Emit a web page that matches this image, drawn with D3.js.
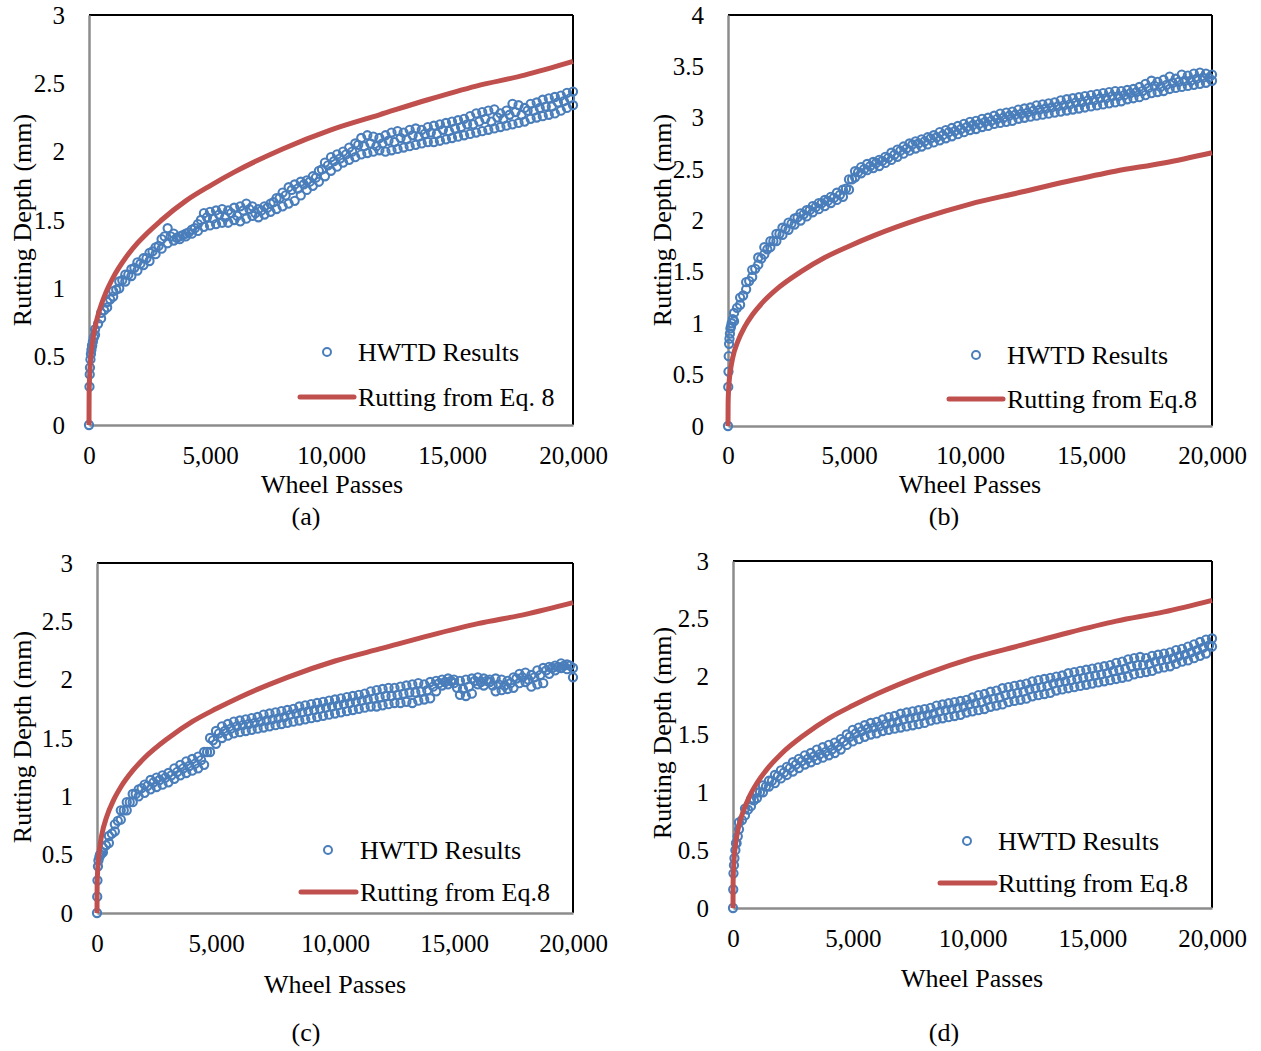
<!DOCTYPE html>
<html>
<head>
<meta charset="utf-8">
<script src="https://cdn.jsdelivr.net/npm/d3@7"></script>
<style>
  html, body { margin: 0; padding: 0; background: #fff; }
  svg { display: block; }
  text { font-family: "Liberation Serif", "Times New Roman", serif; fill: #000; }
</style>
</head>
<body>
<svg id="chart" width="1261" height="1051"></svg>
<script>
// ---------------- DATA ----------------
const X_TICKS = [0, 5000, 10000, 15000, 20000];
const Y_TICKS_3 = [0, 0.5, 1, 1.5, 2, 2.5, 3];
const Y_TICKS_4 = [0, 0.5, 1, 1.5, 2, 2.5, 3, 3.5, 4];
const CAPTIONS = ["(a)", "(b)", "(c)", "(d)"];
const SERIES_NAMES_A = ["HWTD Results", "Rutting from Eq. 8"];
const SERIES_NAMES = ["HWTD Results", "Rutting from Eq.8"];
const X_TITLE = "Wheel Passes";
const Y_TITLE = "Rutting Depth (mm)";

// Wheel passes at which the two outer measurement strands were recorded
const PASSES = [250, 500, 750, 1000, 1250, 1500, 1750, 2000, 2250, 2500, 2750, 3000, 3250, 3500, 3750, 4000,
  4250, 4500, 4750, 5000, 5250, 5500, 5750, 6000, 6250, 6500, 6750, 7000, 7250, 7500, 7750, 8000,
  8250, 8500, 8750, 9000, 9250, 9500, 9750, 10000, 10250, 10500, 10750, 11000, 11250, 11500, 11750, 12000,
  12250, 12500, 12750, 13000, 13250, 13500, 13750, 14000, 14250, 14500, 14750, 15000, 15250, 15500, 15750, 16000,
  16250, 16500, 16750, 17000, 17250, 17500, 17750, 18000, 18250, 18500, 18750, 19000, 19250, 19500, 19750, 20000];
// Wheel passes of the intermediate readings
const PASSES_MID = [125, 375, 625, 875, 1125, 1375, 1625, 1875, 2125, 2375, 2625, 2875, 3125, 3375, 3625, 3875,
  4125, 4375, 4625, 4875, 5125, 5375, 5625, 5875, 6125, 6375, 6625, 6875, 7125, 7375, 7625, 7875,
  8125, 8375, 8625, 8875, 9125, 9375, 9625, 9875, 10125, 10375, 10625, 10875, 11125, 11375, 11625, 11875,
  12125, 12375, 12625, 12875, 13125, 13375, 13625, 13875, 14125, 14375, 14625, 14875, 15125, 15375, 15625, 15875,
  16125, 16375, 16625, 16875, 17125, 17375, 17625, 17875, 18125, 18375, 18625, 18875, 19125, 19375, 19625, 19875];

// Eq. 8 prediction curve
const EQ8_PASSES = [0, 5, 20, 50, 100, 200, 400, 700, 1000, 1500, 2000, 3000, 4000, 5000, 6000, 8000, 10000, 12000, 14000, 16000, 18000, 20000];
const EQ8_DEPTH = [0, 0.22, 0.33, 0.44, 0.54, 0.67, 0.82, 0.97, 1.08, 1.22, 1.33, 1.5, 1.64, 1.75, 1.85, 2.02, 2.16, 2.27, 2.38, 2.48, 2.56, 2.66];

// Panel (a)
const EARLY_PASSES_A = [0, 20, 30, 40, 60, 80, 100, 130, 160, 200];
const EARLY_DEPTH_A = [0, 0.28, 0.37, 0.42, 0.48, 0.52, 0.55, 0.58, 0.61, 0.64];
const LOWER_A = [0.66, 0.78, 0.86, 0.94, 1.0, 1.05, 1.09, 1.13, 1.17, 1.2, 1.25, 1.29, 1.33, 1.35, 1.36, 1.38,
  1.4, 1.42, 1.45, 1.46, 1.47, 1.48, 1.48, 1.5, 1.49, 1.51, 1.53, 1.52, 1.54, 1.56, 1.58, 1.6,
  1.62, 1.64, 1.68, 1.72, 1.75, 1.78, 1.82, 1.86, 1.89, 1.92, 1.94, 1.96, 1.98, 1.99, 2.0, 2.01,
  2.0, 2.01, 2.02, 2.03, 2.04, 2.05, 2.06, 2.07, 2.07, 2.08, 2.09, 2.1, 2.11, 2.12, 2.13, 2.14,
  2.15, 2.16, 2.17, 2.18, 2.19, 2.2, 2.21, 2.22, 2.24, 2.25, 2.26, 2.27, 2.28, 2.3, 2.32, 2.34];
const MID_A = [0.58, 0.74, 0.84, 0.92, 0.99, 1.06, 1.1, 1.15, 1.18, 1.22, 1.27, 1.31, 1.38, 1.38, 1.37, 1.39,
  1.41, 1.44, 1.5, 1.52, 1.51, 1.54, 1.52, 1.55, 1.53, 1.57, 1.58, 1.55, 1.57, 1.59, 1.63, 1.66,
  1.68, 1.72, 1.73, 1.76, 1.78, 1.81, 1.87, 1.9, 1.93, 1.95, 1.98, 2.0, 2.05, 2.04, 2.06, 2.04,
  2.06, 2.08, 2.07, 2.1, 2.09, 2.12, 2.11, 2.13, 2.14, 2.13, 2.16, 2.15, 2.17, 2.18, 2.2, 2.2,
  2.22, 2.24, 2.22, 2.25, 2.24, 2.27, 2.29, 2.27, 2.3, 2.3, 2.32, 2.33, 2.33, 2.36, 2.37, 2.39];
const UPPER_A = [0.7, 0.82, 0.9, 0.98, 1.05, 1.1, 1.14, 1.19, 1.22, 1.26, 1.3, 1.36, 1.44, 1.4, 1.38, 1.4,
  1.43, 1.47, 1.55, 1.56, 1.57, 1.58, 1.57, 1.59, 1.6, 1.62, 1.6, 1.58, 1.6, 1.62, 1.66, 1.7,
  1.74, 1.76, 1.78, 1.79, 1.82, 1.86, 1.92, 1.96, 1.98, 2.0, 2.03, 2.06, 2.1, 2.12, 2.11, 2.1,
  2.12, 2.14, 2.15, 2.14, 2.16, 2.17, 2.16, 2.18, 2.19, 2.2, 2.21, 2.22, 2.23, 2.24, 2.26, 2.28,
  2.29, 2.3, 2.31, 2.28, 2.3, 2.35, 2.34, 2.32, 2.35, 2.36, 2.38, 2.39, 2.4, 2.41, 2.43, 2.44];

// Panel (b)
const EARLY_PASSES_B = [0, 10, 20, 30, 45, 60, 80, 100, 150, 200];
const EARLY_DEPTH_B = [0, 0.38, 0.53, 0.68, 0.8, 0.85, 0.9, 0.95, 1.0, 1.04];
const LOWER_B = [1.02, 1.18, 1.33, 1.45, 1.57, 1.67, 1.74, 1.8, 1.86, 1.91, 1.96, 2.0, 2.04, 2.08, 2.11, 2.14,
  2.17, 2.2, 2.23, 2.3, 2.42, 2.46, 2.49, 2.51, 2.53, 2.56, 2.59, 2.62, 2.65, 2.68, 2.7, 2.72,
  2.74, 2.76, 2.78, 2.8, 2.82, 2.84, 2.86, 2.88, 2.89, 2.91, 2.92, 2.94, 2.95, 2.96, 2.97, 2.99,
  3.0, 3.01, 3.02, 3.03, 3.04, 3.05, 3.06, 3.07, 3.08, 3.09, 3.1, 3.11, 3.12, 3.13, 3.14, 3.15,
  3.16, 3.18, 3.19, 3.2, 3.22, 3.24, 3.25, 3.26, 3.28, 3.29, 3.3, 3.31, 3.32, 3.33, 3.34, 3.36];
const MID_B = [0.97, 1.15, 1.27, 1.41, 1.53, 1.63, 1.72, 1.8, 1.87, 1.92, 1.97, 2.03, 2.06, 2.1, 2.13, 2.17,
  2.19, 2.22, 2.25, 2.31, 2.4, 2.47, 2.5, 2.53, 2.56, 2.58, 2.61, 2.64, 2.68, 2.7, 2.74, 2.75,
  2.77, 2.8, 2.81, 2.83, 2.86, 2.87, 2.89, 2.91, 2.93, 2.94, 2.96, 2.97, 2.99, 3.0, 3.02, 3.03,
  3.04, 3.05, 3.07, 3.08, 3.09, 3.1, 3.11, 3.12, 3.13, 3.15, 3.15, 3.17, 3.17, 3.19, 3.19, 3.21,
  3.21, 3.22, 3.24, 3.25, 3.26, 3.29, 3.31, 3.3, 3.32, 3.34, 3.35, 3.36, 3.36, 3.38, 3.39, 3.39];
const UPPER_B = [1.1, 1.25, 1.4, 1.52, 1.64, 1.74, 1.8, 1.87, 1.93, 1.98, 2.02, 2.07, 2.1, 2.14, 2.17, 2.2,
  2.23, 2.27, 2.3, 2.4, 2.48, 2.52, 2.55, 2.57, 2.59, 2.62, 2.66, 2.69, 2.72, 2.75, 2.77, 2.79,
  2.81, 2.83, 2.86, 2.88, 2.9, 2.92, 2.94, 2.96, 2.97, 2.99, 3.0, 3.02, 3.04, 3.05, 3.06, 3.08,
  3.09, 3.1, 3.12, 3.13, 3.14, 3.15, 3.17, 3.18, 3.19, 3.2, 3.21, 3.22, 3.23, 3.24, 3.25, 3.26,
  3.26, 3.27, 3.28, 3.3, 3.33, 3.36, 3.35, 3.37, 3.4, 3.38, 3.42, 3.41, 3.43, 3.44, 3.43, 3.42];

// Panel (c)
const EARLY_PASSES_C = [0, 10, 20, 40, 60, 100, 150, 200];
const EARLY_DEPTH_C = [0, 0.14, 0.28, 0.4, 0.45, 0.48, 0.5, 0.52];
const LOWER_C = [0.52, 0.6, 0.7, 0.8, 0.88, 0.95, 1.0, 1.03, 1.06, 1.08, 1.1, 1.12, 1.15, 1.18, 1.2, 1.22,
  1.24, 1.27, 1.38, 1.45, 1.5, 1.52, 1.54, 1.55, 1.56, 1.57, 1.58, 1.59, 1.6, 1.61, 1.62, 1.63,
  1.64, 1.65, 1.66, 1.67, 1.68, 1.69, 1.7, 1.71, 1.72, 1.73, 1.74, 1.75, 1.76, 1.77, 1.77, 1.78,
  1.79, 1.8, 1.8, 1.81, 1.8, 1.82, 1.83, 1.84, 1.9, 1.95, 1.96, 1.97, 1.87, 1.86, 1.88, 1.96,
  1.95, 1.98, 1.9, 1.91, 1.92, 1.93, 1.97, 1.98, 1.94, 1.96, 1.97, 2.05, 2.08, 2.1, 2.09, 2.02];
const MID_C = [0.5, 0.58, 0.68, 0.79, 0.88, 0.95, 1.02, 1.07, 1.09, 1.12, 1.14, 1.16, 1.18, 1.21, 1.24, 1.26,
  1.28, 1.31, 1.38, 1.48, 1.54, 1.56, 1.58, 1.6, 1.61, 1.62, 1.63, 1.64, 1.65, 1.66, 1.67, 1.68,
  1.7, 1.71, 1.72, 1.73, 1.74, 1.75, 1.76, 1.77, 1.78, 1.79, 1.8, 1.81, 1.82, 1.83, 1.84, 1.85,
  1.86, 1.86, 1.87, 1.88, 1.89, 1.89, 1.9, 1.91, 1.94, 1.97, 1.98, 1.99, 1.93, 1.92, 1.94, 1.99,
  1.98, 1.99, 1.95, 1.96, 1.95, 1.97, 2.01, 2.02, 2.0, 2.02, 2.04, 2.08, 2.1, 2.11, 2.12, 2.12];
const UPPER_C = [0.56, 0.66, 0.76, 0.88, 0.95, 1.02, 1.06, 1.1, 1.14, 1.16, 1.18, 1.2, 1.24, 1.27, 1.3, 1.32,
  1.34, 1.38, 1.5, 1.56, 1.6, 1.62, 1.64, 1.65, 1.66, 1.67, 1.68, 1.7, 1.71, 1.72, 1.73, 1.74,
  1.75, 1.77, 1.78, 1.79, 1.8, 1.81, 1.82, 1.83, 1.84, 1.85, 1.86, 1.87, 1.88, 1.9, 1.91, 1.92,
  1.93, 1.93, 1.94, 1.95, 1.96, 1.97, 1.96, 1.98, 1.99, 2.0, 2.01, 2.0, 1.99, 2.0, 2.01, 2.02,
  2.01, 2.0, 2.01, 2.0, 1.99, 2.02, 2.05, 2.06, 2.04, 2.08, 2.1, 2.11, 2.12, 2.14, 2.13, 2.1];

// Panel (d)
const EARLY_PASSES_D = [0, 10, 20, 40, 60, 100, 150, 200];
const EARLY_DEPTH_D = [0, 0.16, 0.3, 0.37, 0.43, 0.5, 0.56, 0.62];
const LOWER_D = [0.68, 0.8, 0.88, 0.95, 1.0, 1.05, 1.08, 1.12, 1.15, 1.18, 1.21, 1.24, 1.26, 1.28, 1.3, 1.32,
  1.34, 1.37, 1.41, 1.44, 1.46, 1.48, 1.5, 1.51, 1.53, 1.54, 1.55, 1.56, 1.57, 1.58, 1.59, 1.6,
  1.62, 1.63, 1.64, 1.65, 1.66, 1.67, 1.69, 1.7, 1.71, 1.72, 1.74, 1.75, 1.76, 1.78, 1.79, 1.8,
  1.81, 1.83, 1.84, 1.85, 1.86, 1.88, 1.89, 1.9, 1.91, 1.92, 1.93, 1.94, 1.95, 1.96, 1.97, 1.98,
  1.99, 2.0, 2.02, 2.03, 2.04, 2.05, 2.07, 2.08, 2.09, 2.11, 2.13, 2.14, 2.16, 2.18, 2.2, 2.26];
const MID_D = [0.56, 0.76, 0.85, 0.93, 1.0, 1.05, 1.1, 1.14, 1.17, 1.21, 1.24, 1.27, 1.29, 1.31, 1.33, 1.35,
  1.37, 1.4, 1.44, 1.48, 1.51, 1.53, 1.55, 1.56, 1.57, 1.59, 1.6, 1.61, 1.63, 1.64, 1.65, 1.66,
  1.67, 1.68, 1.7, 1.71, 1.72, 1.73, 1.74, 1.76, 1.77, 1.78, 1.8, 1.81, 1.82, 1.84, 1.85, 1.86,
  1.87, 1.89, 1.9, 1.91, 1.92, 1.94, 1.95, 1.96, 1.97, 1.98, 1.99, 2.0, 2.01, 2.02, 2.03, 2.05,
  2.06, 2.07, 2.09, 2.1, 2.1, 2.11, 2.13, 2.14, 2.15, 2.16, 2.18, 2.19, 2.21, 2.23, 2.25, 2.27];
const UPPER_D = [0.74, 0.86, 0.94, 1.0, 1.06, 1.1, 1.15, 1.19, 1.22, 1.26, 1.29, 1.32, 1.34, 1.37, 1.39, 1.41,
  1.43, 1.46, 1.5, 1.54, 1.56, 1.58, 1.6, 1.61, 1.63, 1.65, 1.66, 1.68, 1.69, 1.7, 1.71, 1.72,
  1.73, 1.75, 1.76, 1.77, 1.78, 1.79, 1.8, 1.82, 1.84, 1.85, 1.87, 1.88, 1.9, 1.91, 1.92, 1.93,
  1.94, 1.96, 1.97, 1.98, 1.99, 2.0, 2.01, 2.03, 2.04, 2.05, 2.06, 2.07, 2.08, 2.09, 2.1, 2.12,
  2.13, 2.15, 2.16, 2.17, 2.16, 2.18, 2.19, 2.2, 2.21, 2.23, 2.24, 2.26, 2.28, 2.3, 2.32, 2.33];

// ---------------- STYLE / LAYOUT ----------------
const BLUE = "#4a7ebb";
const RED = "#c0504d";
const AXIS_GRAY = "#8c8c8c";

const panels = [
  { left: 89, right: 573, top: 15, bottom: 425, yMax: 3, yTicks: Y_TICKS_3, xPad: 21,
    early: [EARLY_PASSES_A, EARLY_DEPTH_A], lower: LOWER_A, mid: MID_A, upper: UPPER_A, names: SERIES_NAMES_A,
    xTitle: [332, 484], yTitle: [22, 220], caption: [306, 516],
    leg: { mx: 327, my: 352, lx1: 300, lx2: 354, ly: 397, tx: 358 } },
  { left: 728, right: 1212, top: 15, bottom: 426, yMax: 4, yTicks: Y_TICKS_4, xPad: 20,
    early: [EARLY_PASSES_B, EARLY_DEPTH_B], lower: LOWER_B, mid: MID_B, upper: UPPER_B, names: SERIES_NAMES,
    xTitle: [970, 484], yTitle: [662, 220], caption: [944, 516],
    leg: { mx: 976, my: 355, lx1: 949, lx2: 1003, ly: 399, tx: 1007 } },
  { left: 97, right: 573, top: 563, bottom: 913, yMax: 3, yTicks: Y_TICKS_3, xPad: 21,
    early: [EARLY_PASSES_C, EARLY_DEPTH_C], lower: LOWER_C, mid: MID_C, upper: UPPER_C, names: SERIES_NAMES,
    xTitle: [335, 984], yTitle: [22, 737], caption: [306, 1032],
    leg: { mx: 328, my: 850, lx1: 301, lx2: 356, ly: 892, tx: 360 } },
  { left: 733, right: 1212, top: 561, bottom: 908, yMax: 3, yTicks: Y_TICKS_3, xPad: 21,
    early: [EARLY_PASSES_D, EARLY_DEPTH_D], lower: LOWER_D, mid: MID_D, upper: UPPER_D, names: SERIES_NAMES,
    xTitle: [972, 978], yTitle: [662, 733], caption: [944, 1032],
    leg: { mx: 967, my: 841, lx1: 940, lx2: 995, ly: 883, tx: 998 } }
];

const svg = d3.select("#chart");

panels.forEach((p, i) => {
  const x = d3.scaleLinear().domain([0, 20000]).range([p.left, p.right]);
  const y = d3.scaleLinear().domain([0, p.yMax]).range([p.bottom, p.top]);
  const g = svg.append("g");

  // plot frame (top & right black)
  g.append("line").attr("x1", p.left).attr("x2", p.right).attr("y1", p.top).attr("y2", p.top)
    .attr("stroke", "#000").attr("stroke-width", 2);
  g.append("line").attr("x1", p.right).attr("x2", p.right).attr("y1", p.top).attr("y2", p.bottom)
    .attr("stroke", "#000").attr("stroke-width", 2);

  // axes
  const xAxis = d3.axisBottom(x).tickValues(X_TICKS).tickFormat(d3.format(",")).tickSize(0).tickPadding(p.xPad);
  const yAxis = d3.axisLeft(y).tickValues(p.yTicks).tickFormat(d => String(d)).tickSize(0).tickPadding(24);
  const gx = g.append("g").attr("transform", `translate(0,${p.bottom})`).call(xAxis);
  const gy = g.append("g").attr("transform", `translate(${p.left},0)`).call(yAxis);
  [gx, gy].forEach(a => {
    a.select(".domain").attr("stroke", AXIS_GRAY).attr("stroke-width", 2.5);
    a.selectAll("text").attr("font-family", "Liberation Serif, serif").attr("font-size", 25).attr("fill", "#000");
  });

  // data points
  const pts = [];
  p.early[0].forEach((n, k) => pts.push([n, p.early[1][k]]));
  PASSES_MID.forEach((n, k) => pts.push([n, p.mid[k]]));
  PASSES.forEach((n, k) => { pts.push([n, p.lower[k]]); pts.push([n, p.upper[k]]); });
  g.append("g").selectAll("circle").data(pts).join("circle")
    .attr("cx", d => x(d[0])).attr("cy", d => y(d[1])).attr("r", 4.1)
    .attr("fill", "none").attr("stroke", BLUE).attr("stroke-width", 2.1);

  // Eq.8 curve
  const line = d3.line().x(d => x(d[0])).y(d => y(d[1])).curve(d3.curveMonotoneX);
  g.append("path").datum(EQ8_PASSES.map((n, k) => [n, EQ8_DEPTH[k]]))
    .attr("d", line).attr("fill", "none").attr("stroke", RED).attr("stroke-width", 5);

  // titles
  g.append("text").attr("x", p.xTitle[0]).attr("y", p.xTitle[1]).attr("text-anchor", "middle")
    .attr("dominant-baseline", "central").attr("font-size", 26).text(X_TITLE);
  g.append("text").attr("transform", `translate(${p.yTitle[0]},${p.yTitle[1]}) rotate(-90)`)
    .attr("text-anchor", "middle").attr("dominant-baseline", "central").attr("font-size", 26).text(Y_TITLE);
  g.append("text").attr("x", p.caption[0]).attr("y", p.caption[1]).attr("text-anchor", "middle")
    .attr("dominant-baseline", "central").attr("font-size", 26).text(CAPTIONS[i]);

  // legend
  const L = p.leg;
  g.append("circle").attr("cx", L.mx).attr("cy", L.my).attr("r", 4)
    .attr("fill", "none").attr("stroke", BLUE).attr("stroke-width", 2);
  g.append("text").attr("x", L.tx).attr("y", L.my).attr("dominant-baseline", "central")
    .attr("font-size", 26).text(p.names[0]);
  g.append("line").attr("x1", L.lx1).attr("x2", L.lx2).attr("y1", L.ly).attr("y2", L.ly)
    .attr("stroke", RED).attr("stroke-width", 5).attr("stroke-linecap", "round");
  g.append("text").attr("x", L.tx).attr("y", L.ly).attr("dominant-baseline", "central")
    .attr("font-size", 26).text(p.names[1]);
});
</script>
</body>
</html>
